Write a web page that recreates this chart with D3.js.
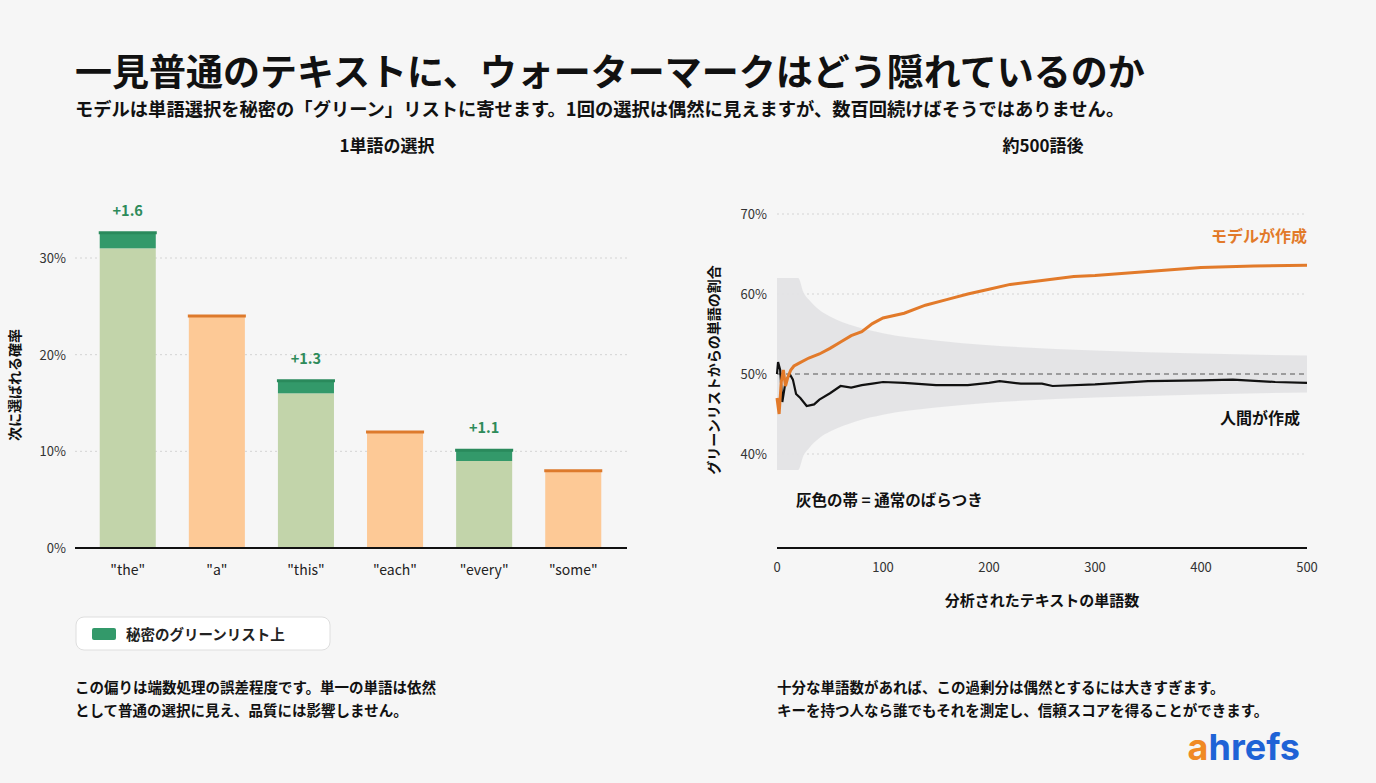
<!DOCTYPE html>
<html><head><meta charset="utf-8">
<script src="https://cdn.jsdelivr.net/npm/d3@7"></script>
<style>
body{margin:0;background:#f6f6f6;font-family:"Noto Sans CJK JP","Noto Sans",sans-serif;}
svg{display:block}
</style></head><body>
<svg width="1376" height="783"></svg>
<script>
// left chart data
const words = ['"the"', '"a"', '"this"', '"each"', '"every"', '"some"'];
const baseProb = [31, 24, 16, 12, 9, 8];
const boost = [1.6, 0, 1.3, 0, 1.1, 0];
const isGreen = [true, false, true, false, true, false];
const leftTicks = [0, 10, 20, 30];

// right chart data
const modelLine = [[0,47],[2,45],[4,49],[6,50.5],[8,48.5],[10,49.5],[13,50.5],[16,51],[20,51.3],[30,52],[40,52.5],[50,53.2],[60,54],[70,54.8],[80,55.3],[90,56.3],[100,57],[120,57.6],[140,58.6],[160,59.3],[180,60],[200,60.6],[220,61.2],[250,61.7],[280,62.2],[300,62.3],[350,62.8],[400,63.3],[450,63.5],[500,63.6]];
const humanLine = [[0,50],[1,51.5],[3,50.5],[5,46.5],[8,49],[10,49.5],[12,50],[15,49.3],[18,47.5],[22,47],[28,46],[35,46.2],[40,46.8],[50,47.6],[60,48.5],[70,48.3],[80,48.6],[90,48.8],[100,49],[120,48.9],[150,48.6],[180,48.6],[200,48.9],[210,49.1],[230,48.8],[250,48.8],[260,48.5],[300,48.7],[350,49.1],[400,49.2],[430,49.3],[470,49],[500,48.9]];
const bandHalf = [[0,12],[20,12],[25,10.2],[30,9.3],[40,8],[50,7.2],[75,5.9],[100,5.1],[150,4.2],[200,3.6],[300,2.95],[400,2.55],[500,2.3]];
const rightTicksY = [40, 50, 60, 70];
const rightTicksX = [0, 100, 200, 300, 400, 500];

const svg = d3.select('svg');
const FONT = '"Noto Sans CJK JP","Noto Sans",sans-serif';

function txt(x, y, s, size, weight, fill, anchor) {
    return svg.append('text').attr('x', x).attr('y', y).text(s)
        .attr('font-size', size).attr('font-weight', weight || 400)
        .attr('fill', fill || '#111').attr('text-anchor', anchor || 'start')
        .attr('font-family', FONT);
}

txt(75, 86, '一見普通のテキストに、ウォーターマークはどう隠れているのか', 37, 700, '#111');
txt(75, 116, 'モデルは単語選択を秘密の「グリーン」リストに寄せます。1回の選択は偶然に見えますが、数百回続けばそうではありません。', 18.3, 700, '#111');
txt(387, 152, '1単語の選択', 17, 700, '#111', 'middle');
txt(1043, 152, '約500語後', 17, 700, '#111', 'middle');

// ---- left chart
const x1 = d3.scaleBand().domain(words).range([73, 628]).paddingInner(0.371).paddingOuter(0.3);
const y1 = d3.scaleLinear().domain([0, 30]).range([548, 258]);

const gL = svg.append('g');
leftTicks.forEach(function (t) {
    if (t > 0) gL.append('line').attr('x1', 75).attr('x2', 627).attr('y1', y1(t)).attr('y2', y1(t))
        .attr('stroke', '#d4d4d4').attr('stroke-dasharray', '2,3');
    txt(66, y1(t) + 5, t + '%', 13, 400, '#333', 'end');
});

words.forEach(function (w, i) {
    const x = x1(w), bw = x1.bandwidth();
    const top = baseProb[i] + boost[i];
    gL.append('rect').attr('x', x).attr('y', y1(baseProb[i])).attr('width', bw)
        .attr('height', y1(0) - y1(baseProb[i])).attr('fill', isGreen[i] ? '#c2d4aa' : '#fdc996');
    if (isGreen[i]) {
        gL.append('rect').attr('x', x).attr('y', y1(top)).attr('width', bw)
            .attr('height', y1(baseProb[i]) - y1(top)).attr('fill', '#33996a');
        gL.append('line').attr('x1', x - 1).attr('x2', x + bw + 1).attr('y1', y1(top)).attr('y2', y1(top))
            .attr('stroke', '#2a8a5c').attr('stroke-width', 3);
        txt(x + bw / 2, y1(top) - 17, '+' + boost[i], 14.5, 700, '#2e8b5a', 'middle');
    } else {
        gL.append('line').attr('x1', x - 1).attr('x2', x + bw + 1).attr('y1', y1(top)).attr('y2', y1(top))
            .attr('stroke', '#dd7a2c').attr('stroke-width', 3);
    }
    txt(x + bw / 2, 575, w, 14, 400, '#222', 'middle');
});
gL.append('line').attr('x1', 75).attr('x2', 627).attr('y1', 548).attr('y2', 548).attr('stroke', '#111').attr('stroke-width', 2);
txt(0, 0, '次に選ばれる確率', 14, 700, '#111', 'middle').attr('transform', 'translate(20,385) rotate(-90)');

// legend
svg.append('rect').attr('x', 76).attr('y', 617).attr('width', 254).attr('height', 33).attr('rx', 8)
    .attr('fill', '#fff').attr('stroke', '#dedede');
svg.append('rect').attr('x', 92).attr('y', 628).attr('width', 24).attr('height', 12).attr('rx', 2).attr('fill', '#33996a');
txt(126, 640, '秘密のグリーンリスト上', 14.5, 700, '#222');

txt(75, 693, 'この偏りは端数処理の誤差程度です。単一の単語は依然', 14.5, 700, '#111');
txt(75, 716, 'として普通の選択に見え、品質には影響しません。', 14.5, 700, '#111');

// ---- right chart
const x2 = d3.scaleLinear().domain([0, 500]).range([777, 1307]);
const y2 = d3.scaleLinear().domain([40, 70]).range([454, 214]);
const gR = svg.append('g');

rightTicksY.forEach(function (t) {
    gR.append('line').attr('x1', 777).attr('x2', 1307).attr('y1', y2(t)).attr('y2', y2(t))
        .attr('stroke', '#d4d4d4').attr('stroke-dasharray', '2,3');
    txt(767, y2(t) + 5, t + '%', 13, 400, '#333', 'end');
});

gR.append('path').datum(bandHalf)
    .attr('d', d3.area().x(d => x2(d[0])).y0(d => y2(50 - d[1])).y1(d => y2(50 + d[1])).curve(d3.curveMonotoneX))
    .attr('fill', '#e2e2e4').attr('opacity', 0.9);

gR.append('line').attr('x1', x2(0)).attr('x2', x2(500)).attr('y1', y2(50)).attr('y2', y2(50))
    .attr('stroke', '#555').attr('stroke-dasharray', '5,4');

gR.append('path').datum(humanLine)
    .attr('d', d3.line().x(d => x2(d[0])).y(d => y2(d[1])))
    .attr('fill', 'none').attr('stroke', '#111').attr('stroke-width', 2.2);
gR.append('path').datum(modelLine)
    .attr('d', d3.line().x(d => x2(d[0])).y(d => y2(d[1])))
    .attr('fill', 'none').attr('stroke', '#e27a2a').attr('stroke-width', 3);

gR.append('line').attr('x1', 777).attr('x2', 1307).attr('y1', 548).attr('y2', 548).attr('stroke', '#111').attr('stroke-width', 2);
rightTicksX.forEach(function (t) {
    txt(x2(t), 572, t, 13, 400, '#333', 'middle');
});

txt(1307, 242, 'モデルが作成', 16, 700, '#e27a2a', 'end');
txt(1300, 424, '人間が作成', 16, 700, '#111', 'end');
txt(796, 506, '灰色の帯 = 通常のばらつき', 15.5, 700, '#111');
txt(1042, 606, '分析されたテキストの単語数', 15, 700, '#111', 'middle');
txt(0, 0, 'グリーンリストからの単語の割合', 14, 700, '#111', 'middle').attr('transform', 'translate(719,370) rotate(-90)');

txt(777, 693, '十分な単語数があれば、この過剰分は偶然とするには大きすぎます。', 14.5, 700, '#111');
txt(777, 716, 'キーを持つ人なら誰でもそれを測定し、信頼スコアを得ることができます。', 14.5, 700, '#111');

// logo
const logo = svg.append('text').attr('x', 1300).attr('y', 760).attr('text-anchor', 'end')
    .attr('font-size', 36).attr('font-weight', 700).attr('font-family', 'Inter,"Noto Sans",sans-serif');
logo.append('tspan').attr('fill', '#f08a24').text('a');
logo.append('tspan').attr('fill', '#1f63d6').text('hrefs');
</script>
</body></html>
